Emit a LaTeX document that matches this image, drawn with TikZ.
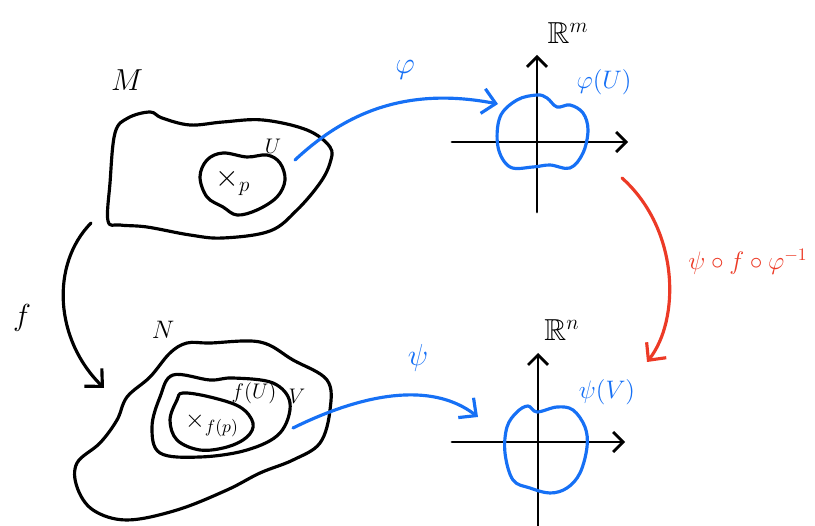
\documentclass[tikz,border=0pt]{standalone}
\usepackage{xcolor}
\usepackage{amssymb}
\usepackage{tikz}
\usetikzlibrary{arrows.meta}
\definecolor{penblue}{RGB}{22,112,245}
\definecolor{penred}{RGB}{236,58,38}
\tikzset{
  blob/.style={line width=1.8pt, line join=round},
  penarrow/.style={line width=1.8pt, line cap=round, -{Straight Barb[length=2.6mm,width=5mm]}},
  axis/.style={line width=1.6pt, line cap=round, -{Straight Barb[length=2mm,width=4mm]}},
}
\begin{document}
\begin{tikzpicture}[x=0.02cm,y=-0.02cm]
\useasboundingbox (0,0) rectangle (815,526);
% manifold M and chart domain U
\draw[blob] plot[smooth cycle, tension=0.6] coordinates {(150,112) (162,118) (190,125) (223,122) (263,120) (307,130) (330,147) (330,163) (320,183) (297,210) (270,231) (223,238) (190,235) (147,227) (120,225) (108,221) (110,183) (115,133) (128,118)};
\draw[blob] plot[smooth cycle, tension=0.6] coordinates {(200,177) (207,160) (223,153) (247,157) (267,155) (280,163) (285,180) (277,197) (257,210) (237,215) (223,207) (207,197)};
\node (labM) at (127,80) {\LARGE$M$};
\node (labU) at (273,146) {\large$U$};
\node (xp) at (233,182) {\LARGE$\times_{p}$};
% manifold N with f(U) and V
\draw[blob] plot[smooth cycle, tension=0.6] coordinates {(187,343) (210,343) (260,342) (293,360) (327,380) (330,410) (320,443) (293,460) (260,473) (227,490) (177,510) (127,520) (93,510) (77,487) (77,463) (100,443) (117,420) (127,397) (150,377) (170,353)};
\draw[blob] plot[smooth cycle, tension=0.6] coordinates {(173,375) (210,380) (233,378) (273,383) (290,403) (280,433) (247,450) (200,457) (160,453) (152,427) (160,397)};
\draw[blob] plot[smooth cycle, tension=0.6] coordinates {(183,393) (210,397) (240,407) (253,423) (247,437) (227,447) (200,450) (177,440) (170,420) (177,400)};
\node (labN) at (163,330) {\Large$N$};
\node (labfU) at (254,393) {\large$f(U)$};
\node (labV) at (297,396) {\large$V$};
\node (xfp) at (212,425) {\Large$\times_{f(p)}$};
% map f
\coordinate (fstart) at (91,223);
\coordinate (fend) at (104,388);
\draw[penarrow] (fstart) .. controls (50,265) and (55,340) .. (fend);
\node (labf) at (22,318) {\LARGE$f$};
% chart images
\coordinate (topw) at (452,142);
\coordinate (tope) at (628,142);
\coordinate (tops) at (537,212);
\coordinate (topn) at (537,55);
\draw[axis] (topw) -- (tope);
\draw[axis] (tops) -- (topn);
\node (Rm) at (568,33) {\LARGE$\mathbb{R}^{m}$};
\draw[blob, penblue] plot[smooth cycle, tension=0.6] coordinates {(500,117) (517,100) (537,95) (547,98) (557,107) (570,105) (583,113) (588,130) (583,153) (570,168) (550,165) (533,167) (510,167) (498,147)};
\node[penblue] (phiU) at (604,82) {\Large$\varphi(U)$};
\coordinate (botw) at (452,442);
\coordinate (bote) at (625,442);
\coordinate (bots) at (538,526);
\coordinate (botn) at (538,353);
\draw[axis] (botw) -- (bote);
\draw[axis] (bots) -- (botn);
\node (Rn) at (562,330) {\LARGE$\mathbb{R}^{n}$};
\draw[blob, penblue] plot[smooth cycle, tension=0.6] coordinates {(528,406) (537,412) (557,407) (573,410) (585,427) (587,447) (580,473) (567,488) (550,493) (530,488) (513,480) (505,453) (507,427) (517,412)};
\node[penblue] (psiV) at (607,392) {\Large$\psi(V)$};
% charts phi and psi
\coordinate (phistart) at (295,160);
\coordinate (phiend) at (498,104);
\draw[penarrow, penblue] (phistart) .. controls (340,118) and (400,85) .. (phiend);
\node[penblue] (labphi) at (405,70) {\LARGE$\varphi$};
\coordinate (psistart) at (293,428);
\coordinate (psiend) at (478,417);
\draw[penarrow, penblue] (psistart) .. controls (360,395) and (430,380) .. (psiend);
\node[penblue] (labpsi) at (418,358) {\LARGE$\psi$};
% transition map
\coordinate (trstart) at (622,178);
\coordinate (trend) at (647,362);
\draw[penarrow, penred] (trstart) .. controls (680,230) and (680,320) .. (trend);
\node[penred] (labtr) at (748,262) {\Large$\psi\circ f\circ\varphi^{-1}$};
\end{tikzpicture}
\end{document}
